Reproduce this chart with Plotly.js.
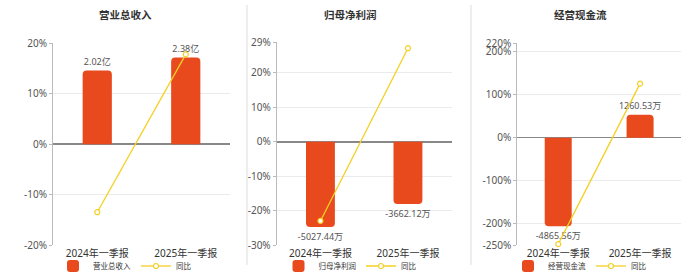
<!DOCTYPE html>
<html>
<head>
<meta charset="utf-8">
<script src="https://cdn.plot.ly/plotly-3.0.1.min.js"></script>
<style>
html,body{margin:0;padding:0;background:#fff;}
#chart{width:700px;height:272px;}
</style>
</head>
<body>
<div id="chart"></div>
<script>
// ---- data ----
var categories = ['2024年一季报', '2025年一季报'];

var revenueName = '营业总收入';
var revenue = [2.02, 2.38];            // 亿
var revenueYoY = [-13.5, 17.8];        // %
var revenueTicks = [-20, -10, 0, 10, 20];

var profitName = '归母净利润';
var netProfit = [-5027.44, -3662.12];  // 万
var netProfitYoY = [-23.0, 27.2];      // %
var profitTicks = [-30, -20, -10, 0, 10, 20, 29];

var cashName = '经营现金流';
var cashFlow = [-4865.56, 1260.53];    // 万
var cashFlowYoY = [-248, 126];         // %
var cashTicks = [-250, -200, -100, 0, 100, 200, 220];

var yoyName = '同比';

// ---- styles ----
var BAR = '#E8491D';
var LINE = '#F3D024';
var FONT = 'Noto Sans, Noto Sans CJK SC, sans-serif';

function fmt(arr, unit) { return arr.map(function (v) { return v.toFixed(2) + unit; }); }

function barTrace(vals, unit, name, xa, ya, lg) {
  return {
    type: 'bar', x: categories, y: vals, name: name, xaxis: xa, yaxis: ya, legend: lg,
    marker: { color: BAR, cornerradius: 4 },
    text: fmt(vals, unit), textposition: 'outside', cliponaxis: false,
    constraintext: 'none', textangle: 0,
    textfont: { size: 9, color: '#555', family: FONT },
    hoverinfo: 'skip'
  };
}
function lineTrace(vals, xa, ya, lg) {
  return {
    type: 'scatter', mode: 'lines+markers', x: categories, y: vals, name: yoyName,
    xaxis: xa, yaxis: ya, legend: lg, cliponaxis: false,
    line: { color: LINE, width: 1.3 },
    marker: { symbol: 'circle', size: 5, color: '#fff', line: { color: LINE, width: 1.2 } },
    hoverinfo: 'skip'
  };
}

var data = [
  barTrace(revenue, '亿', revenueName, 'x', 'y', 'legend'),
  lineTrace(revenueYoY, 'x', 'y4', 'legend'),
  barTrace(netProfit, '万', profitName, 'x2', 'y2', 'legend2'),
  lineTrace(netProfitYoY, 'x2', 'y5', 'legend2'),
  barTrace(cashFlow, '万', cashName, 'x3', 'y3', 'legend3'),
  lineTrace(cashFlowYoY, 'x3', 'y6', 'legend3')
];

function xAxis(dom, anchor) {
  return {
    domain: dom, anchor: anchor, type: 'category', showline: false, showgrid: false,
    zeroline: false, ticks: '', fixedrange: true, automargin: false,
    ticklabelstandoff: 1,
    tickfont: { size: 10, color: '#333', family: FONT }
  };
}
function barAxis(dom, anchor, range) {
  return {
    domain: dom, anchor: anchor, range: range, visible: false, showgrid: false,
    zeroline: false, fixedrange: true
  };
}
function pctAxis(base, anchor, ticks) {
  return {
    overlaying: base, anchor: anchor, side: 'left', automargin: false,
    range: [ticks[0], ticks[ticks.length - 1]],
    tickmode: 'array', tickvals: ticks, ticktext: ticks.map(function (t) { return t + '%'; }),
    showgrid: true, gridcolor: '#EBEBEB', gridwidth: 1,
    zeroline: true, zerolinecolor: '#888', zerolinewidth: 1.5,
    showline: true, linecolor: '#BBB', linewidth: 1,
    ticks: 'outside', ticklen: 3, tickcolor: '#BBB',
    tickfont: { size: 10, color: '#555', family: FONT }, fixedrange: true
  };
}

function legendAt(x) {
  return {
    orientation: 'h', x: x, xanchor: 'center', y: 1 - 266 / 272, yanchor: 'middle',
    font: { size: 7.5, color: '#333', family: FONT }, bgcolor: 'rgba(0,0,0,0)',
    itemwidth: 30, tracegroupgap: 0, itemclick: false
  };
}

var yd1 = [1 - 245 / 272, 1 - 43.3 / 272];
var yd2 = [1 - 245 / 272, 1 - 42 / 272];
var yd3 = [1 - 245 / 272, 1 - 43.3 / 272];

var layout = {
  width: 700, height: 272,
  margin: { l: 0, r: 0, t: 0, b: 0, autoexpand: false },
  paper_bgcolor: '#fff', plot_bgcolor: 'rgba(0,0,0,0)',
  font: { family: FONT },
  showlegend: true,
  bargap: 0.67,
  xaxis: xAxis([53 / 700, 230 / 700], 'y'),
  xaxis2: xAxis([276.7 / 700, 451.7 / 700], 'y2'),
  xaxis3: xAxis([517.3 / 700, 681 / 700], 'y3'),
  yaxis: barAxis(yd1, 'x', [-2.77, 2.77]),
  yaxis2: barAxis(yd2, 'x2', [-6082, 5880]),
  yaxis3: barAxis(yd3, 'x3', [-5895, 5187]),
  yaxis4: pctAxis('y', 'x', revenueTicks),
  yaxis5: pctAxis('y2', 'x2', profitTicks),
  yaxis6: pctAxis('y3', 'x3', cashTicks),
  legend: legendAt(125 / 700),
  legend2: legendAt(350 / 700),
  legend3: legendAt(580 / 700),
  annotations: [
    { text: '<b>' + revenueName + '</b>', x: 125 / 700, y: 1 - 14 / 272 },
    { text: '<b>' + profitName + '</b>', x: 350 / 700, y: 1 - 14 / 272 },
    { text: '<b>' + cashName + '</b>', x: 580 / 700, y: 1 - 14 / 272 }
  ].map(function (a) {
    a.xref = 'paper'; a.yref = 'paper'; a.showarrow = false;
    a.xanchor = 'center'; a.yanchor = 'middle';
    a.font = { size: 10.5, color: '#333', family: 'Noto Sans CJK SC, sans-serif' };
    return a;
  }),
  shapes: [247, 471].map(function (px) {
    return {
      type: 'line', xref: 'paper', yref: 'paper',
      x0: px / 700, x1: px / 700, y0: 1 - 265 / 272, y1: 1 - 5 / 272,
      line: { color: '#DDD', width: 1 }
    };
  })
};

Plotly.newPlot('chart', data, layout, { displayModeBar: false, staticPlot: true });
</script>
</body>
</html>
